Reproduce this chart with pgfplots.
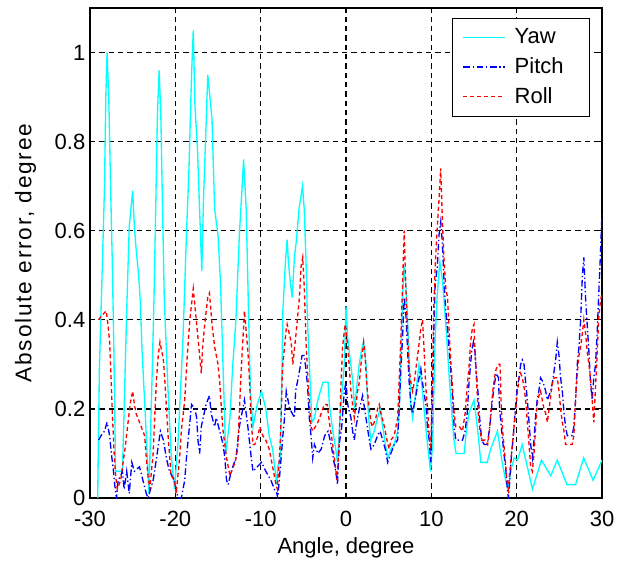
\documentclass[border=0pt]{standalone}
\usepackage{fontspec}
\setmainfont{Liberation Sans}
\usepackage{pgfplots}
\pgfplotsset{compat=1.18}
\definecolor{mcyan}{RGB}{0,255,255}
\definecolor{mblue}{RGB}{0,0,255}
\definecolor{mred}{RGB}{255,0,0}

\begin{document}
\begin{tikzpicture}
  \begin{axis}[
      scale only axis,
      width=384pt, height=367.5pt,
      xmin=-30, xmax=30,
      ymin=0, ymax=1.1,
      xtick={-30,-20,...,30},
      ytick={0,0.2,0.4,0.6,0.8,1},
      grid=major,
      major grid style={black, line width=0.9pt, dash pattern=on 4pt off 3pt},
      axis line style={black, line width=1.1pt},
      tick align=inside,
      tick style={black, line width=0.8pt},
      major tick length=4pt,
      font=\fontsize{16.5}{19}\selectfont,
      /pgf/number format/assume math mode=true,
      xticklabel style={yshift=-6pt},
      xlabel={Angle, degree},
      ylabel={\addfontfeatures{LetterSpace=8}Absolute error, degree},
      xlabel style={at={(axis description cs:0.5,-0.102)}, anchor=center},
      ylabel style={at={(axis description cs:-0.126,0.5)}, anchor=center,
        font=\fontsize{17}{19}\selectfont},
      legend cell align=left,
      legend style={at={(0.975,0.98)}, anchor=north east,
        fill=white, inner xsep=6pt, inner ysep=6pt,
        row sep=5pt, font=\fontsize{16.5}{19}\selectfont},
      legend image code/.code={
        \draw[#1] plot coordinates {(0pt,0pt) (15pt,0pt) (31pt,0pt)};
        \path (-2pt,0pt) (36pt,0pt);},
    ]
    % Yaw
    \addplot [color=mcyan, draw=mcyan, line width=1pt] coordinates {
      (-29.1,0.00) (-28.9,0.29) (-28.5,0.56) (-28.3,0.70) (-28.15,0.90) (-28.0,1.00)
      (-27.8,0.90) (-27.6,0.71) (-27.4,0.54) (-27.2,0.33) (-27.0,0.06) (-26.2,0.06)
      (-26.0,0.20) (-25.7,0.42) (-25.4,0.61) (-25.2,0.65) (-25.0,0.69) (-24.8,0.61)
      (-24.6,0.56) (-24.3,0.50) (-24.1,0.44) (-23.9,0.33) (-23.5,0.18) (-23.1,0.01)
      (-22.7,0.29) (-22.5,0.45) (-22.3,0.65) (-22.1,0.86) (-21.9,0.96) (-21.7,0.86)
      (-21.5,0.65) (-21.3,0.45) (-20.9,0.26) (-20.5,0.10) (-20.1,0.02) (-19.7,0.12)
      (-19.1,0.36) (-18.7,0.59) (-18.4,0.74) (-18.1,0.95) (-17.9,1.05) (-17.7,0.88)
      (-17.4,0.78) (-17.2,0.67) (-16.9,0.51) (-16.7,0.67) (-16.5,0.78) (-16.2,0.95)
      (-16.0,0.91) (-15.7,0.85) (-15.4,0.65) (-15.0,0.59) (-14.7,0.48) (-14.4,0.29)
      (-14.1,0.10) (-13.6,0.18) (-13.3,0.29) (-12.9,0.40) (-12.5,0.59) (-12.2,0.69)
      (-12.0,0.76) (-11.7,0.65) (-11.4,0.40) (-11.2,0.24) (-10.9,0.16) (-10.4,0.21)
      (-9.9,0.24) (-9.4,0.20) (-9.0,0.14) (-8.6,0.11) (-8.3,0.06) (-8.1,0.03)
      (-8.0,0.07) (-7.7,0.09) (-7.5,0.29) (-7.4,0.42) (-7.1,0.53) (-6.9,0.58)
      (-6.75,0.53) (-6.5,0.48) (-6.3,0.45) (-6.05,0.54) (-5.8,0.58) (-5.5,0.65)
      (-5.1,0.70) (-4.9,0.65) (-4.7,0.54) (-4.5,0.39) (-4.2,0.26) (-4.0,0.17)
      (-3.7,0.18) (-3.3,0.22) (-2.7,0.26) (-2.1,0.26) (-1.95,0.21) (-1.55,0.15)
      (-1.2,0.11) (-1.0,0.08) (-0.7,0.18) (-0.5,0.23) (-0.2,0.30) (0.0,0.43)
      (0.2,0.36) (0.5,0.31) (0.8,0.26) (1.0,0.20) (1.2,0.24) (1.55,0.30)
      (1.8,0.33) (2.05,0.35) (2.35,0.30) (2.55,0.21) (2.75,0.16) (2.9,0.13)
      (3.3,0.15) (3.7,0.18) (4.0,0.20) (4.3,0.16) (4.7,0.11) (4.9,0.09)
      (5.25,0.11) (5.65,0.12) (6.05,0.15) (6.25,0.20) (6.45,0.33) (6.65,0.46)
      (6.8,0.52) (7.0,0.48) (7.2,0.41) (7.4,0.31) (7.6,0.21) (7.8,0.18)
      (8.2,0.24) (8.55,0.30) (8.85,0.26) (9.15,0.20) (9.55,0.12) (9.9,0.06)
      (10.15,0.12) (10.45,0.36) (10.7,0.46) (11.0,0.53) (11.3,0.49) (11.5,0.44)
      (11.8,0.36) (12.1,0.27) (12.4,0.19) (12.65,0.13) (12.9,0.10) (13.85,0.10)
      (14.1,0.15) (14.4,0.19) (15.0,0.22) (15.2,0.19) (15.5,0.14) (15.8,0.08)
      (16.55,0.08) (16.95,0.11) (17.75,0.15) (18.3,0.08) (18.7,0.04) (19.0,0.02)
      (19.3,0.06) (19.7,0.09) (20.1,0.085) (20.65,0.12) (21.85,0.02) (22.9,0.085)
      (24.0,0.05) (24.75,0.085) (25.9,0.03) (26.9,0.03) (27.85,0.09) (28.95,0.04)
      (30.0,0.085)
    };
    \addlegendentry{Yaw}
    % Pitch
    \addplot [color=mblue, draw=mblue, line width=1pt, dash pattern=on 5pt off 2pt on 1pt off 2pt] coordinates {
      (-29.0,0.13) (-28.7,0.14) (-28.3,0.15) (-28.0,0.17) (-27.7,0.14) (-27.5,0.10)
      (-27.3,0.07) (-27.1,0.03) (-26.9,0.00) (-26.7,0.04) (-26.4,0.05) (-26.2,0.06)
      (-26.0,0.02) (-25.7,0.06) (-25.4,0.01) (-25.1,0.08) (-24.8,0.06) (-24.2,0.07)
      (-23.4,0.01) (-23.2,0.00) (-22.6,0.04) (-22.2,0.09) (-21.75,0.15) (-21.4,0.13)
      (-21.05,0.09) (-20.7,0.06) (-20.1,0.04) (-19.7,0.00) (-19.3,0.00) (-18.9,0.04)
      (-18.7,0.09) (-18.1,0.21) (-17.7,0.20) (-17.5,0.18) (-17.35,0.13) (-17.15,0.10)
      (-16.96,0.16) (-16.4,0.21) (-16.0,0.23) (-15.8,0.19) (-15.4,0.16) (-15.2,0.18)
      (-14.8,0.15) (-14.4,0.12) (-14.2,0.09) (-14.0,0.04) (-13.8,0.03) (-13.45,0.06)
      (-12.9,0.09) (-12.5,0.16) (-12.1,0.20) (-11.9,0.22) (-11.5,0.16) (-11.1,0.09)
      (-10.9,0.06) (-10.4,0.07) (-9.9,0.08) (-9.4,0.06) (-8.8,0.04) (-8.4,0.02)
      (-8.1,0.01) (-8.0,0.00) (-7.6,0.09) (-7.4,0.14) (-7.2,0.18) (-7.0,0.24)
      (-6.8,0.22) (-6.6,0.20) (-6.3,0.19) (-6.05,0.18) (-5.9,0.24) (-5.5,0.28)
      (-5.15,0.32) (-4.9,0.32) (-4.7,0.29) (-4.5,0.25) (-4.3,0.18) (-4.1,0.14)
      (-3.9,0.09) (-3.7,0.12) (-3.3,0.10) (-2.9,0.11) (-2.5,0.14) (-2.1,0.15)
      (-1.75,0.12) (-1.4,0.08) (-1.2,0.06) (-1.0,0.03) (-0.8,0.12) (-0.5,0.16)
      (-0.2,0.24) (0.0,0.26) (0.2,0.21) (0.58,0.18) (0.78,0.15) (0.97,0.13)
      (1.17,0.16) (1.56,0.20) (1.95,0.23) (2.34,0.18) (2.73,0.13) (2.92,0.11)
      (3.31,0.12) (3.7,0.14) (4.0,0.15) (4.3,0.13) (4.6,0.11) (4.88,0.08)
      (5.26,0.10) (5.65,0.12) (6.05,0.13) (6.23,0.20) (6.43,0.29) (6.63,0.36)
      (6.82,0.45) (7.02,0.41) (7.22,0.33) (7.4,0.26) (7.6,0.21) (7.8,0.19)
      (8.19,0.23) (8.46,0.26) (8.77,0.29) (8.96,0.26) (9.35,0.21) (9.55,0.16)
      (9.75,0.13) (9.94,0.08) (10.14,0.23) (10.3,0.38) (10.45,0.48) (10.7,0.52)
      (10.9,0.59) (11.1,0.62) (11.3,0.57) (11.5,0.48) (11.7,0.42) (11.9,0.38)
      (12.1,0.33) (12.3,0.28) (12.5,0.22) (12.67,0.16) (12.87,0.13) (13.65,0.13)
      (13.96,0.15) (14.2,0.19) (14.42,0.26) (14.73,0.33) (14.93,0.35) (15.1,0.33)
      (15.27,0.28) (15.5,0.23) (15.66,0.18) (15.9,0.13) (16.2,0.12) (16.57,0.12)
      (16.77,0.15) (16.96,0.18) (17.16,0.22) (17.35,0.25) (17.6,0.28) (17.86,0.27)
      (18.0,0.20) (18.25,0.15) (18.5,0.10) (18.7,0.07) (18.9,0.02) (19.03,0.00)
      (19.2,0.04) (19.4,0.10) (19.57,0.13) (19.8,0.19) (20.08,0.25) (20.27,0.27)
      (20.47,0.30) (20.66,0.31) (20.86,0.30) (21.05,0.26) (21.25,0.22) (21.45,0.17)
      (21.64,0.12) (21.84,0.09) (22.03,0.13) (22.2,0.18) (22.4,0.22) (22.6,0.24)
      (22.8,0.27) (23.1,0.26) (23.4,0.24) (23.6,0.22) (23.98,0.24) (24.2,0.26)
      (24.57,0.31) (24.76,0.35) (24.96,0.32) (25.15,0.27) (25.35,0.24) (25.55,0.19)
      (25.73,0.16) (25.93,0.14) (26.5,0.14) (26.7,0.16) (26.9,0.22) (27.1,0.30)
      (27.3,0.34) (27.5,0.40) (27.7,0.50) (27.87,0.54) (28.07,0.45) (28.26,0.39)
      (28.46,0.33) (28.65,0.26) (28.85,0.22) (29.04,0.27) (29.24,0.30) (29.43,0.37)
      (29.6,0.45) (29.8,0.54) (30.0,0.64)
    };
    \addlegendentry{Pitch\hspace*{11pt}}
    % Roll
    \addplot [color=mred, draw=mred, line width=1pt, dash pattern=on 3pt off 2.2pt] coordinates {
      (-29.0,0.40) (-28.6,0.41) (-28.1,0.42) (-27.9,0.39) (-27.7,0.35) (-27.55,0.28)
      (-27.4,0.20) (-27.2,0.11) (-27.0,0.05) (-26.8,0.02) (-26.4,0.04) (-26.2,0.07)
      (-25.9,0.11) (-25.6,0.16) (-25.3,0.21) (-25.0,0.24) (-24.8,0.21) (-24.6,0.19)
      (-24.2,0.17) (-23.6,0.14) (-23.4,0.09) (-23.2,0.05) (-23.0,0.02) (-22.6,0.10)
      (-22.4,0.19) (-22.2,0.27) (-22.0,0.32) (-21.8,0.35) (-21.4,0.31) (-21.25,0.27)
      (-20.85,0.14) (-20.5,0.05) (-20.1,0.04) (-19.9,0.01) (-19.5,0.09) (-19.3,0.15)
      (-18.9,0.22) (-18.6,0.32) (-18.3,0.40) (-17.9,0.47) (-17.7,0.43) (-17.35,0.36)
      (-16.96,0.28) (-16.8,0.34) (-16.5,0.40) (-16.2,0.45) (-16.0,0.46) (-15.7,0.39)
      (-15.4,0.34) (-15.0,0.30) (-14.8,0.26) (-14.6,0.20) (-14.4,0.15) (-14.0,0.09)
      (-13.8,0.07) (-13.6,0.05) (-13.0,0.08) (-12.7,0.11) (-12.5,0.19) (-12.3,0.28)
      (-12.1,0.35) (-11.9,0.42) (-11.5,0.33) (-11.3,0.26) (-11.1,0.17) (-10.9,0.12)
      (-10.7,0.12) (-10.3,0.14) (-10.1,0.16) (-9.75,0.14) (-9.4,0.13) (-9.0,0.11)
      (-8.5,0.06) (-8.2,0.03) (-8.05,0.02) (-7.9,0.06) (-7.75,0.11) (-7.6,0.18)
      (-7.45,0.29) (-7.25,0.33) (-7.0,0.38) (-6.9,0.39) (-6.43,0.35) (-6.23,0.30)
      (-5.85,0.37) (-5.46,0.45) (-5.26,0.52) (-5.07,0.54) (-4.88,0.47) (-4.68,0.35)
      (-4.5,0.28) (-4.3,0.22) (-4.1,0.16) (-3.9,0.15) (-3.3,0.17) (-2.9,0.19)
      (-2.54,0.21) (-2.2,0.21) (-1.95,0.17) (-1.56,0.12) (-1.17,0.06) (-1.05,0.04)
      (-0.78,0.13) (-0.6,0.25) (-0.4,0.34) (-0.1,0.39) (0.2,0.34) (0.4,0.29)
      (0.58,0.24) (0.78,0.21) (0.97,0.18) (1.17,0.21) (1.36,0.24) (1.56,0.26)
      (1.75,0.30) (1.95,0.33) (2.07,0.35) (2.2,0.33) (2.45,0.25) (2.73,0.20)
      (2.92,0.17) (3.1,0.16) (3.5,0.18) (3.7,0.20) (3.9,0.21) (4.1,0.19)
      (4.5,0.16) (4.9,0.12) (5.07,0.11) (5.26,0.13) (5.65,0.14) (6.05,0.18)
      (6.23,0.26) (6.43,0.36) (6.63,0.48) (6.82,0.60) (7.02,0.47) (7.22,0.37)
      (7.4,0.29) (7.6,0.26) (7.8,0.24) (8.0,0.26) (8.19,0.29) (8.46,0.33)
      (8.77,0.38) (8.97,0.40) (9.16,0.33) (9.35,0.25) (9.55,0.20) (9.75,0.14)
      (9.94,0.11) (10.14,0.29) (10.3,0.44) (10.45,0.52) (10.7,0.61) (10.9,0.67)
      (11.1,0.74) (11.3,0.62) (11.5,0.53) (11.7,0.47) (11.9,0.45) (12.1,0.37)
      (12.3,0.30) (12.5,0.24) (12.67,0.19) (12.87,0.16) (13.3,0.16) (13.65,0.15)
      (13.96,0.19) (14.2,0.25) (14.4,0.29) (14.6,0.35) (14.8,0.38) (15.0,0.39)
      (15.1,0.34) (15.3,0.26) (15.5,0.19) (15.7,0.15) (15.9,0.13) (16.3,0.13)
      (16.6,0.12) (16.8,0.15) (17.0,0.20) (17.2,0.24) (17.4,0.27) (17.6,0.29)
      (17.9,0.30) (18.05,0.30) (18.2,0.20) (18.4,0.14) (18.6,0.10) (18.8,0.05)
      (19.03,0.02) (19.2,0.06) (19.4,0.10) (19.7,0.16) (19.9,0.20) (20.1,0.24)
      (20.3,0.27) (20.47,0.28) (20.66,0.27) (20.86,0.25) (21.05,0.22) (21.25,0.17)
      (21.45,0.12) (21.64,0.07) (21.84,0.06) (22.03,0.10) (22.2,0.15) (22.4,0.21)
      (22.6,0.23) (22.8,0.24) (23.0,0.22) (23.2,0.20) (23.4,0.19) (23.6,0.17)
      (23.8,0.20) (24.0,0.23) (24.2,0.26) (24.4,0.27) (24.76,0.27) (24.96,0.24)
      (25.15,0.20) (25.35,0.17) (25.55,0.15) (25.73,0.12) (26.5,0.12) (26.7,0.14)
      (26.9,0.22) (27.1,0.28) (27.3,0.32) (27.5,0.34) (27.7,0.37) (27.87,0.40)
      (28.07,0.37) (28.26,0.33) (28.46,0.30) (28.65,0.27) (28.85,0.22) (29.04,0.17)
      (29.24,0.25) (29.43,0.32) (29.6,0.40) (29.8,0.44) (30.0,0.46)
    };
    \addlegendentry{Roll}
    \coordinate (bl) at (rel axis cs:0,0);
    \coordinate (tr) at (rel axis cs:1,1);
  \end{axis}
  \pgfresetboundingbox
  \path[use as bounding box] ([shift={(-67.5pt,-50pt)}]bl) rectangle ([shift={(15.75pt,6pt)}]tr);
\end{tikzpicture}
\end{document}
